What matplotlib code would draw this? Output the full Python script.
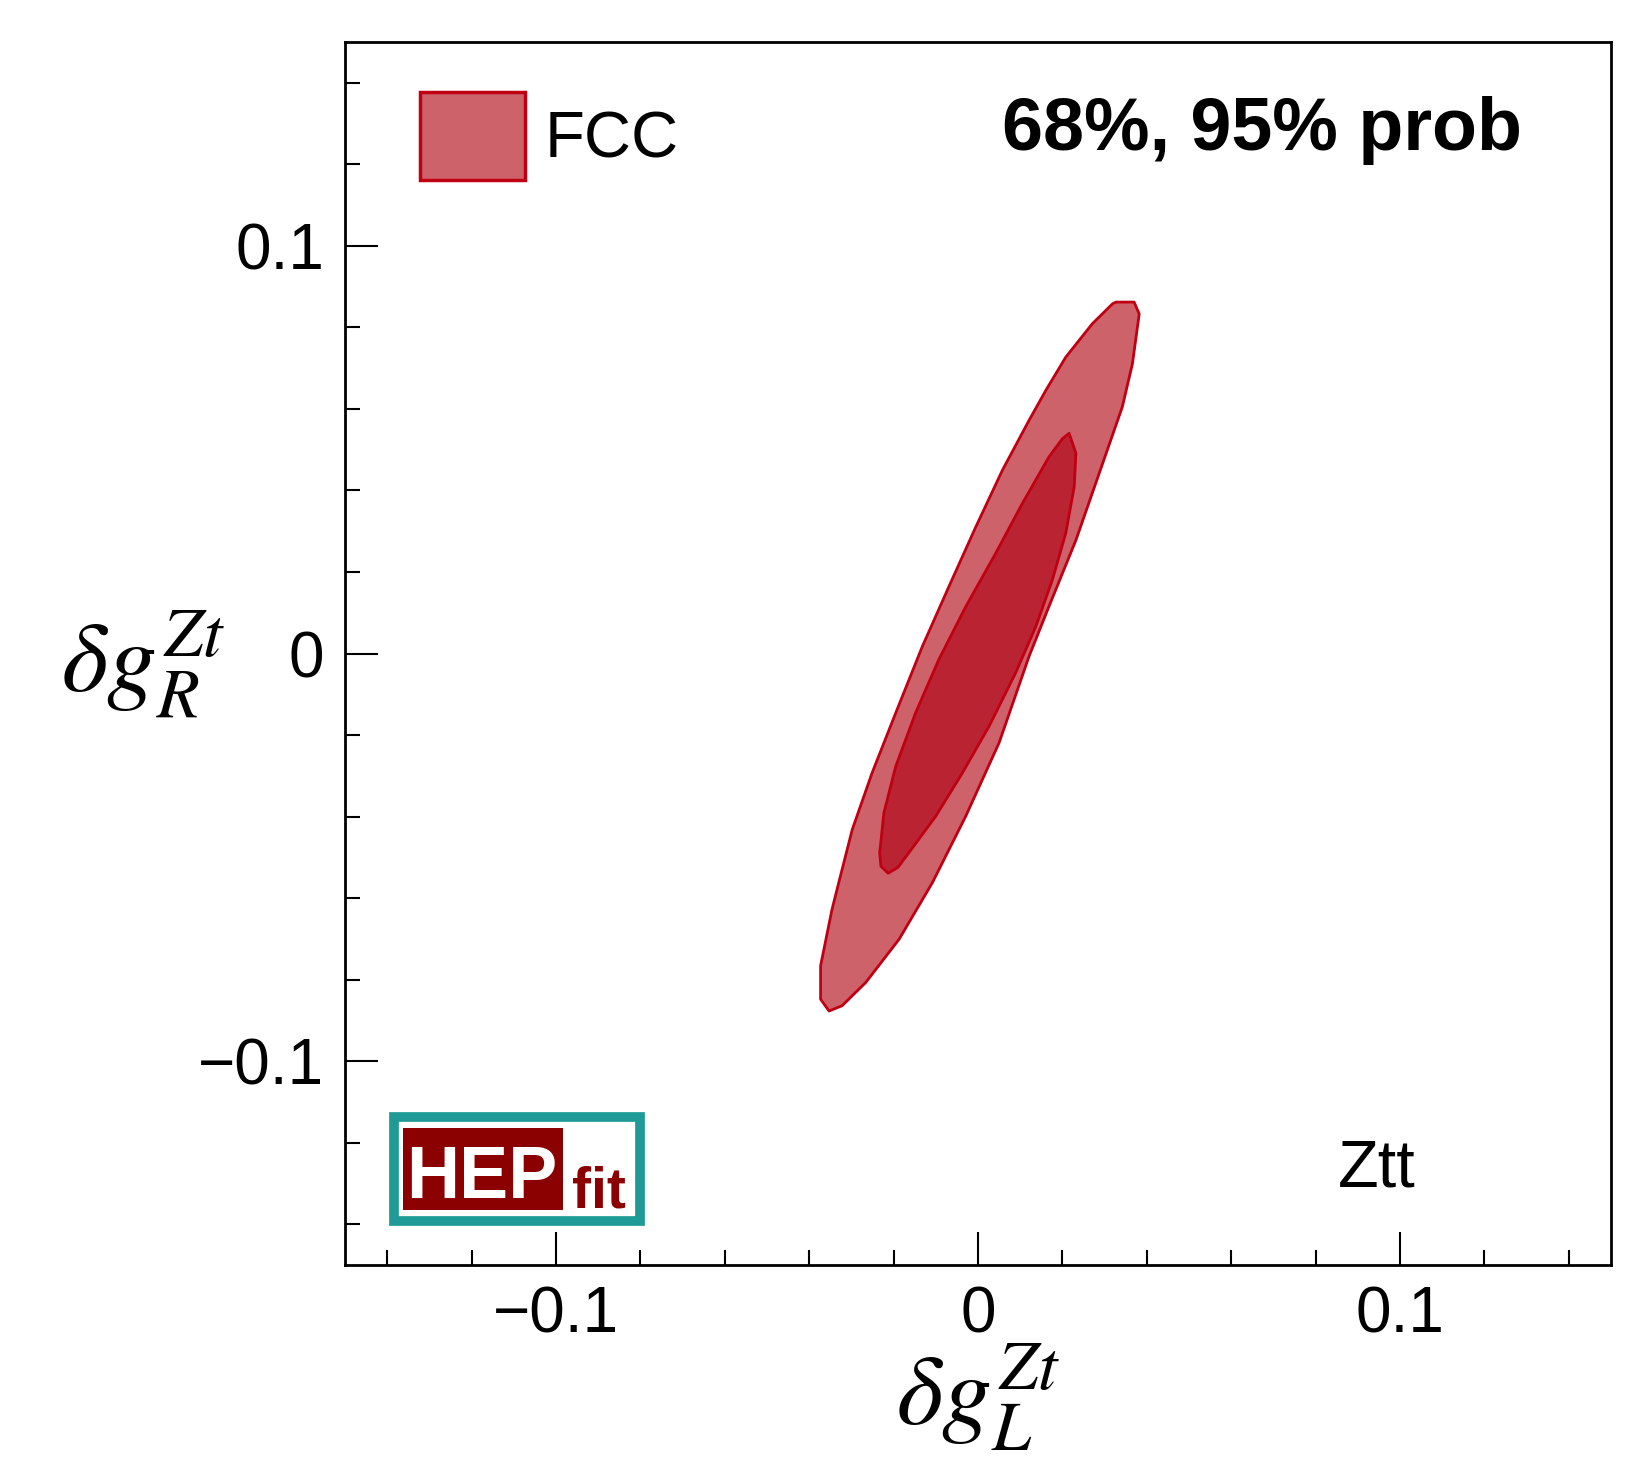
import matplotlib
matplotlib.use("Agg")
import matplotlib.pyplot as plt
import matplotlib.patches as mpatches
from matplotlib.ticker import MultipleLocator

plt.rcParams['font.family'] = ['Liberation Sans', 'DejaVu Sans']
plt.rcParams['mathtext.fontset'] = 'stix'

# 95% contour outline (dgL, dgR)
outer_x = [0.0327, 0.0370, 0.0382, 0.0366, 0.0342, 0.0300, 0.0232, 0.0168, 0.0121,
           0.0050, -0.0029, -0.0108, -0.0187, -0.0266, -0.0322, -0.0353,
           -0.0373, -0.0373, -0.0346, -0.0326, -0.0298, -0.0251, -0.0195, -0.0132,
           -0.0069, -0.0005, 0.0058, 0.0121, 0.0161, 0.0208, 0.0271, 0.0319]
outer_y = [0.0862, 0.0862, 0.0833, 0.0711, 0.0605, 0.0480, 0.0278, 0.0115, -0.0007,
           -0.0219, -0.0399, -0.0562, -0.0701, -0.0807, -0.0864, -0.0877,
           -0.0848, -0.0766, -0.0628, -0.0546, -0.0432, -0.0293, -0.0146, 0.0017,
           0.0164, 0.0311, 0.0450, 0.0572, 0.0646, 0.0727, 0.0809, 0.0858]

# 68% contour outline
inner_x = [0.0216, 0.0232, 0.0228, 0.0208, 0.0176, 0.0137, 0.0089, 0.0026, -0.0037,
           -0.0100, -0.0164, -0.0190, -0.0213, -0.0230, -0.0233, -0.0223, -0.0195,
           -0.0148, -0.0093, -0.0029, 0.0042, 0.0105, 0.0168, 0.0200]
inner_y = [0.0540, 0.0491, 0.0409, 0.0295, 0.0180, 0.0066, -0.0048, -0.0179, -0.0293,
           -0.0399, -0.0489, -0.0525, -0.0539, -0.0522, -0.0489, -0.0391, -0.0277,
           -0.0146, -0.0015, 0.0115, 0.0246, 0.0368, 0.0482, 0.0527]

major_ticks = [-0.1, 0.0, 0.1]
tick_labels = ['\u22120.1', '0', '0.1']

col_95 = '#cd626a'
col_68 = '#ba2432'
col_edge = '#c00012'

fig = plt.figure(figsize=(16.4, 14.65), dpi=100)
ax = fig.add_axes([345 / 1640, 1 - 1265 / 1465, 1266 / 1640, 1223 / 1465])

ax.fill(outer_x, outer_y, facecolor=col_95, edgecolor=col_edge, lw=2,
        joinstyle='round', zorder=2)
ax.fill(inner_x, inner_y, facecolor=col_68, edgecolor=col_edge, lw=2,
        joinstyle='round', zorder=3)

ax.set_xlim(-0.15, 0.15)
ax.set_ylim(-0.15, 0.15)

ax.set_xticks(major_ticks)
ax.set_xticklabels(tick_labels)
ax.set_yticks(major_ticks)
ax.set_yticklabels(tick_labels)
ax.xaxis.set_minor_locator(MultipleLocator(0.02))
ax.yaxis.set_minor_locator(MultipleLocator(0.02))
ax.tick_params(which='both', direction='in', top=False, right=False, width=1.5,
               labelsize=46, pad=15)
ax.tick_params(which='major', length=24)
ax.tick_params(which='minor', length=11)
for sp in ax.spines.values():
    sp.set_linewidth(2)

ax.set_xlabel(r'$\delta g_{L}^{Zt}$', fontsize=72, va='center', ha='center')
ax.xaxis.set_label_coords(0.5, -0.109)
ax.set_ylabel(r'$\delta g_{R}^{Zt}$', fontsize=72, rotation=0, va='center', ha='center')
ax.yaxis.set_label_coords(-0.160, 0.491)

# legend
h = mpatches.Patch(facecolor=col_95, edgecolor=col_edge, lw=2.5, joinstyle='round', label='FCC')
ax.legend(handles=[h], loc='upper left', bbox_to_anchor=(0.059, 0.959), frameon=False,
          fontsize=47, borderpad=0, borderaxespad=0, handlelength=1.62,
          handleheight=1.70, handletextpad=0.3)

ax.text(0.930, 0.912, '68%, 95% prob', transform=ax.transAxes, ha='right', va='baseline',
        fontsize=53, fontweight='bold')
ax.text(0.784, 0.064, 'Ztt', transform=ax.transAxes, ha='left', va='baseline', fontsize=48)

# HEPfit logo
ax.add_patch(mpatches.Rectangle((0.0387, 0.0360), 0.1943, 0.0850, transform=ax.transAxes,
                                facecolor='white', edgecolor='#1f9a96', lw=7, zorder=5))
ax.add_patch(mpatches.Rectangle((0.0458, 0.0450), 0.1264, 0.0670, transform=ax.transAxes,
                                facecolor='#8b0000', edgecolor='none', zorder=6))
ax.text(0.1082, 0.0548, 'HEP', transform=ax.transAxes, ha='center', va='baseline',
        fontsize=53, fontweight='bold', color='white', zorder=7)
ax.text(0.1793, 0.0474, 'fit', transform=ax.transAxes, ha='left', va='baseline',
        fontsize=41, fontweight='bold', color='#8b0000', zorder=7)

fig.savefig('out.png', dpi=100)
